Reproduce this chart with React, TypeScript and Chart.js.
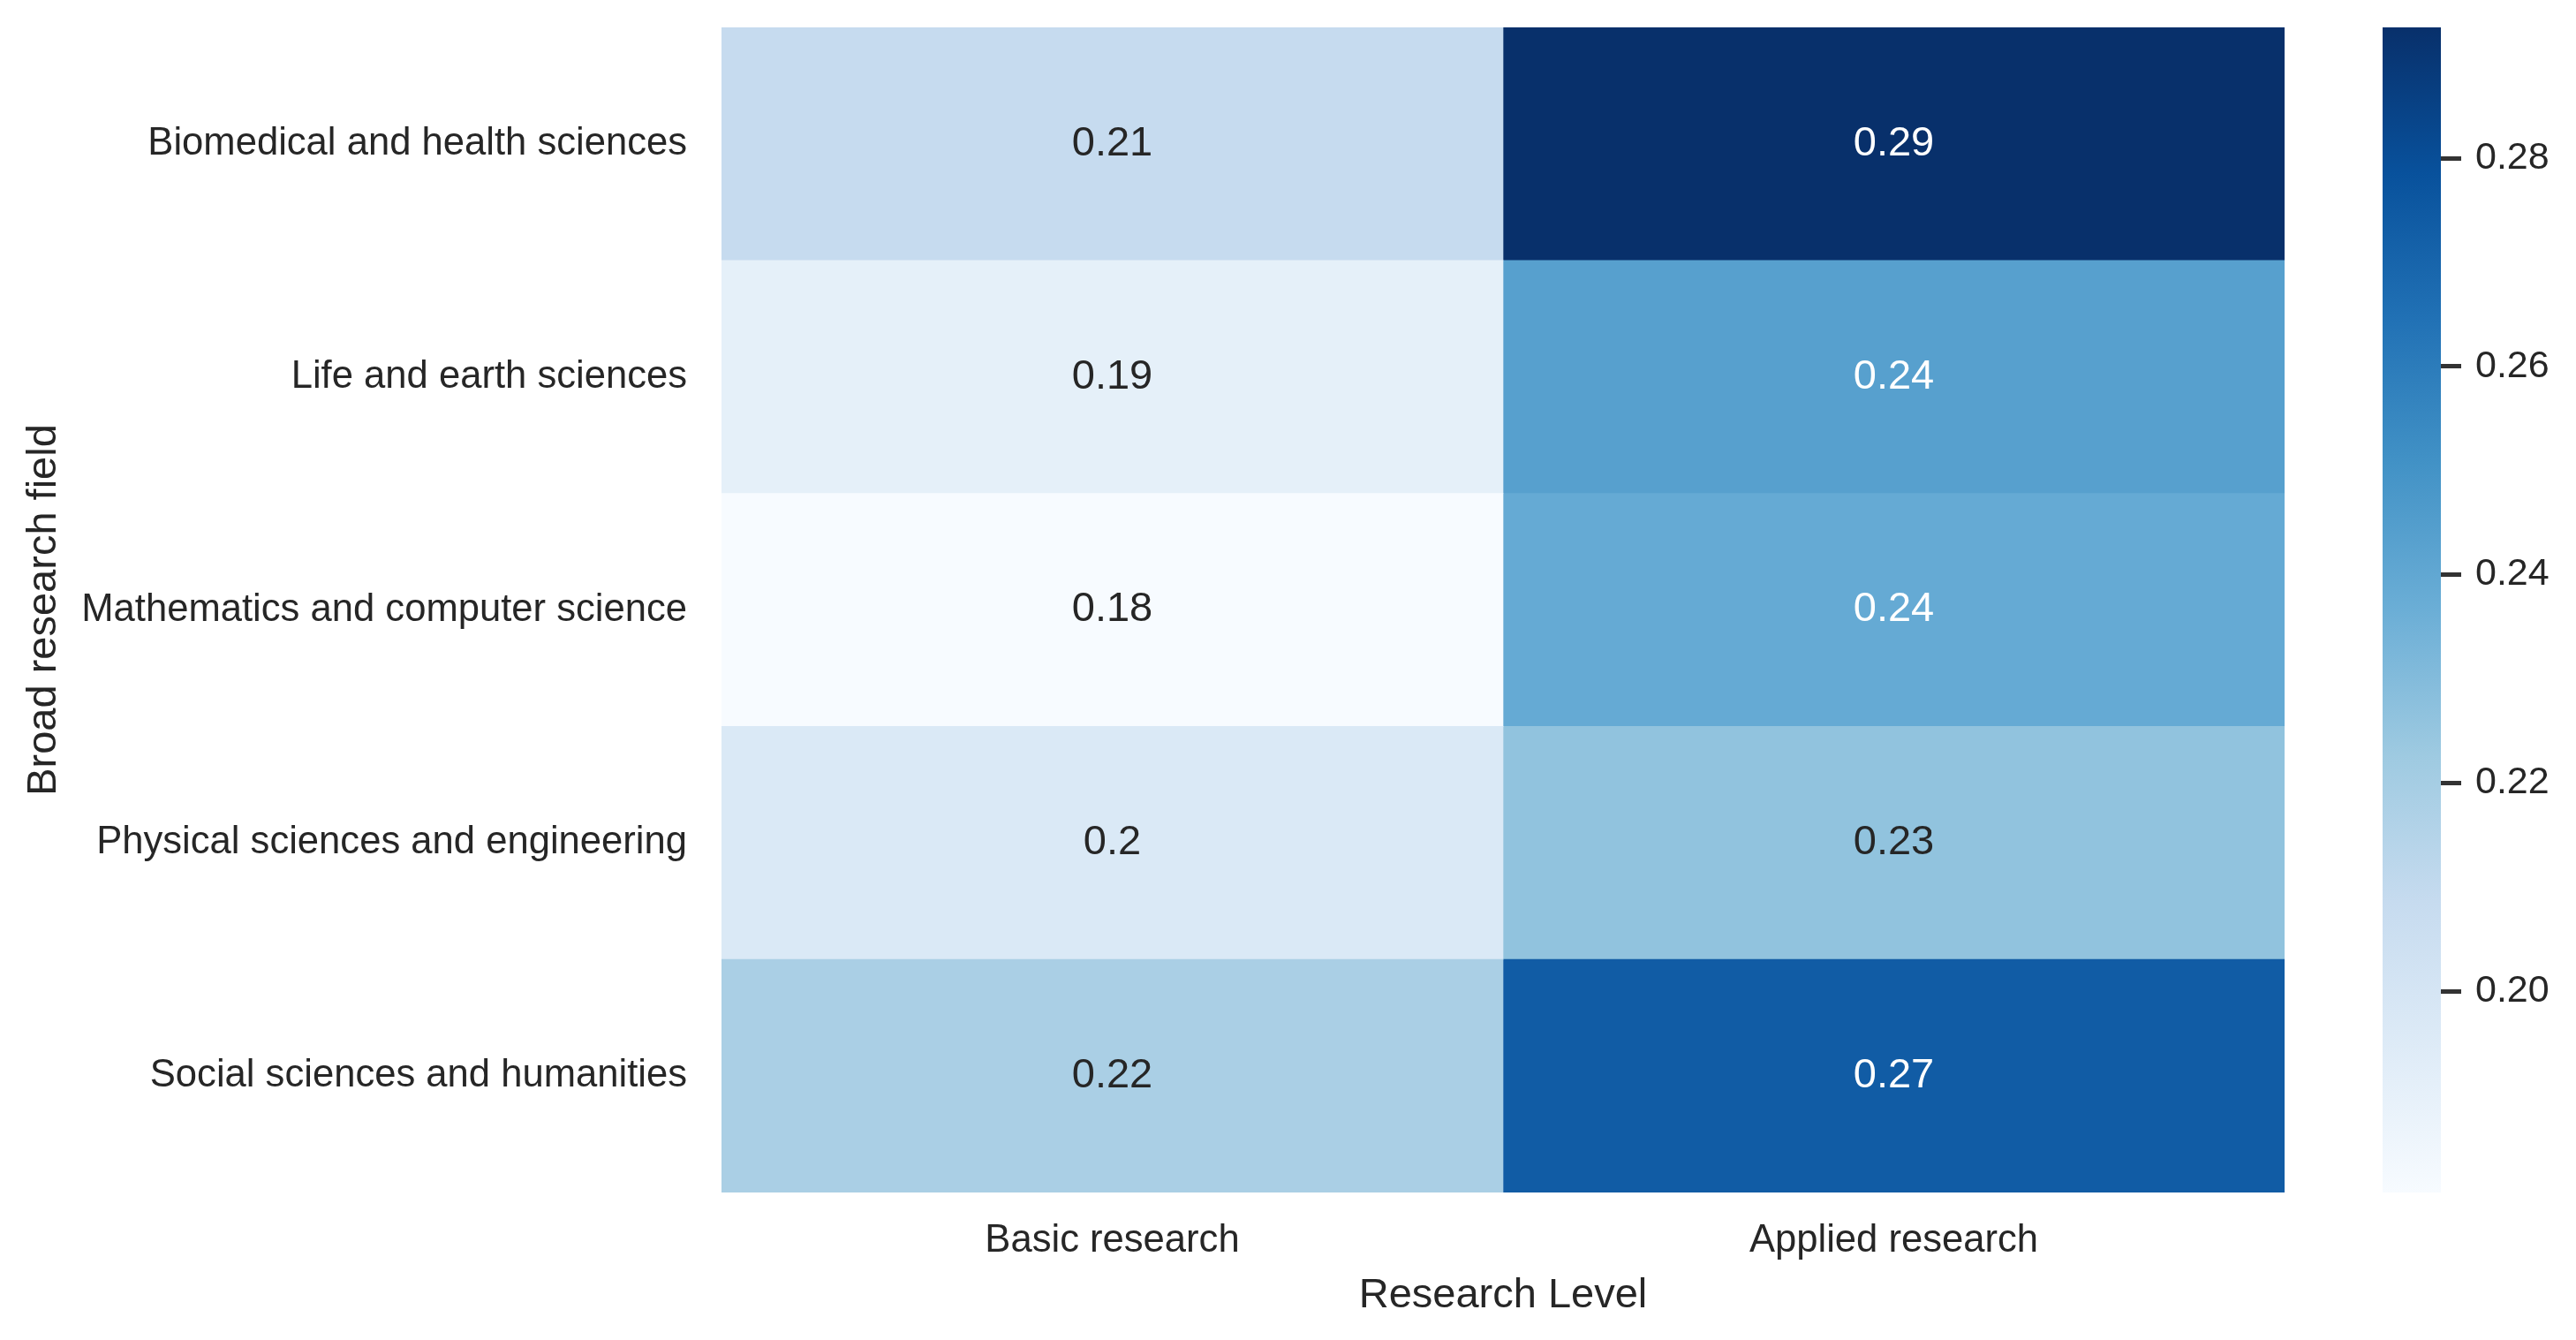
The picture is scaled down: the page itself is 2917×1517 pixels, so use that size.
import React, { useEffect, useRef } from "react";
import { Chart, registerables } from "chart.js";

Chart.register(...registerables);

const rowLabels = [
  "Biomedical and health sciences",
  "Life and earth sciences",
  "Mathematics and computer science",
  "Physical sciences and engineering",
  "Social sciences and humanities",
];
const colLabels = ["Basic research", "Applied research"];
const basicValues = [0.2086, 0.1907, 0.1807, 0.1968, 0.2185];
const appliedValues = [0.2925, 0.2435, 0.2385, 0.2262, 0.2738];
const displayBasic = ["0.21", "0.19", "0.18", "0.2", "0.22"];
const displayApplied = ["0.29", "0.24", "0.24", "0.23", "0.27"];
const colorbarTicks = [0.2, 0.22, 0.24, 0.26, 0.28];
const vMin = 0.18066;
const vMax = 0.29256;
const xTitle = "Research Level";
const yTitle = "Broad research field";

const BLUES = [
  [247, 251, 255],
  [222, 235, 247],
  [198, 219, 239],
  [158, 202, 225],
  [107, 174, 214],
  [66, 146, 198],
  [33, 113, 181],
  [8, 81, 156],
  [8, 48, 107],
];

function bluesRGB(t: number): number[] {
  const tt = Math.max(0, Math.min(1, t));
  const pos = tt * (BLUES.length - 1);
  const i = Math.min(BLUES.length - 2, Math.floor(pos));
  const f = pos - i;
  const a = BLUES[i];
  const b = BLUES[i + 1];
  return [0, 1, 2].map((k) => a[k] + (b[k] - a[k]) * f);
}
function bluesColor(v: number): string {
  const c = bluesRGB((v - vMin) / (vMax - vMin));
  return `rgb(${Math.round(c[0])},${Math.round(c[1])},${Math.round(c[2])})`;
}
function textColorFor(v: number): string {
  const c = bluesRGB((v - vMin) / (vMax - vMin)).map((x) => {
    const s = x / 255;
    return s <= 0.03928 ? s / 12.92 : Math.pow((s + 0.055) / 1.055, 2.4);
  });
  const lum = 0.2126 * c[0] + 0.7152 * c[1] + 0.0722 * c[2];
  return lum > 0.408 ? "#262626" : "#ffffff";
}

const FONT = "'Liberation Sans', Arial, sans-serif";
const TEXT = "#262626";

const MAIN_W = 2660;
const H = 1517;
const CB_LEFT = 2600;
const CB_W = 317;

function zeroPad(scale: any) {
  scale.paddingTop = 0;
  scale.paddingBottom = 0;
  scale.paddingLeft = 0;
  scale.paddingRight = 0;
}

export default function App() {
  const mainRef = useRef<HTMLCanvasElement | null>(null);
  const cbRef = useRef<HTMLCanvasElement | null>(null);

  useEffect(() => {
    const valueSets = [basicValues, appliedValues];
    const displaySets = [displayBasic, displayApplied];

    const annotate = {
      id: "annotate",
      afterDatasetsDraw(chart: any) {
        const ctx = chart.ctx;
        ctx.save();
        ctx.font = `47px ${FONT}`;
        ctx.textAlign = "center";
        ctx.textBaseline = "middle";
        chart.data.datasets.forEach((ds: any, di: number) => {
          const meta = chart.getDatasetMeta(di);
          meta.data.forEach((el: any, i: number) => {
            const p = el.getCenterPoint();
            ctx.fillStyle = textColorFor(valueSets[di][i]);
            ctx.fillText(displaySets[di][i], p.x, p.y);
          });
        });
        ctx.restore();
      },
    };

    const main = new Chart(mainRef.current as HTMLCanvasElement, {
      type: "bar",
      data: {
        labels: rowLabels,
        datasets: colLabels.map((c, j) => ({
          label: c,
          data: rowLabels.map(() => [j, j + 1]),
          backgroundColor: valueSets[j].map((v) => bluesColor(v)),
          borderWidth: 0,
          barPercentage: 1,
          categoryPercentage: 1,
          grouped: false,
        })) as any,
      },
      options: {
        indexAxis: "y",
        responsive: false,
        animation: false,
        layout: { padding: { top: 31, right: MAIN_W - 2587, left: 0, bottom: 0 } },
        plugins: { legend: { display: false }, tooltip: { enabled: false } },
        scales: {
          x: {
            type: "linear",
            position: "bottom",
            min: 0,
            max: 2,
            afterBuildTicks: (scale: any) => {
              scale.ticks = colLabels.map((_, j) => ({ value: j + 0.5 }));
            },
            afterFit: (scale: any) => {
              scale.height = H - 1350;
              zeroPad(scale);
            },
            grid: { display: false, drawTicks: false },
            border: { display: false },
            ticks: {
              autoSkip: false,
              maxRotation: 0,
              padding: 29,
              color: TEXT,
              font: { family: FONT, size: 43.6 },
              callback: (v: any) => colLabels[Math.floor(Number(v))],
            },
            title: {
              display: true,
              text: xTitle,
              color: TEXT,
              font: { family: FONT, size: 47 },
              padding: { top: 0, bottom: 22 },
            },
          },
          y: {
            type: "category",
            afterFit: (scale: any) => {
              scale.width = 817;
              zeroPad(scale);
            },
            grid: { display: false, drawTicks: false },
            border: { display: false },
            ticks: {
              padding: 39,
              color: TEXT,
              font: { family: FONT, size: 43.6 },
            },
            title: {
              display: true,
              text: yTitle,
              color: TEXT,
              font: { family: FONT, size: 47 },
              padding: { top: 22, bottom: 0 },
            },
          },
        },
      } as any,
      plugins: [annotate],
    });

    const cb = new Chart(cbRef.current as HTMLCanvasElement, {
      type: "bar",
      data: {
        labels: [""],
        datasets: [
          {
            data: [[vMin, vMax]],
            backgroundColor: (ctx: any) => {
              const chart = ctx.chart;
              const area = chart.chartArea;
              if (!area) return "#6baed6";
              const g = chart.ctx.createLinearGradient(0, area.bottom, 0, area.top);
              BLUES.forEach((c, i) =>
                g.addColorStop(i / (BLUES.length - 1), `rgb(${c[0]},${c[1]},${c[2]})`)
              );
              return g;
            },
            borderWidth: 0,
            barPercentage: 1,
            categoryPercentage: 1,
          },
        ] as any,
      },
      options: {
        responsive: false,
        animation: false,
        layout: { padding: { top: 31, bottom: H - 1350, left: 2698 - CB_LEFT, right: 0 } },
        plugins: { legend: { display: false }, tooltip: { enabled: false } },
        scales: {
          x: {
            display: false,
            afterFit: (scale: any) => {
              zeroPad(scale);
            },
          },
          y: {
            position: "right",
            min: vMin,
            max: vMax,
            afterBuildTicks: (scale: any) => {
              scale.ticks = colorbarTicks.map((v) => ({ value: v }));
            },
            afterFit: (scale: any) => {
              scale.width = CB_W - (2764 - CB_LEFT);
              zeroPad(scale);
            },
            grid: {
              drawOnChartArea: false,
              drawTicks: true,
              tickLength: 23,
              tickWidth: 5,
              tickColor: "#333333",
            },
            border: { display: false },
            ticks: {
              padding: 16,
              color: TEXT,
              font: { family: FONT, size: 43 },
              callback: (v: any) => Number(v).toFixed(2),
            },
          },
        },
      } as any,
    });

    return () => {
      main.destroy();
      cb.destroy();
    };
  }, []);

  return (
    <div style={{ position: "fixed", left: 0, top: 0, width: 2917, height: H, background: "#fff" }}>
      <canvas
        ref={mainRef}
        width={MAIN_W}
        height={H}
        style={{ position: "absolute", left: 0, top: 0, width: MAIN_W, height: H }}
      />
      <canvas
        ref={cbRef}
        width={CB_W}
        height={H}
        style={{ position: "absolute", left: CB_LEFT, top: 0, width: CB_W, height: H }}
      />
    </div>
  );
}
